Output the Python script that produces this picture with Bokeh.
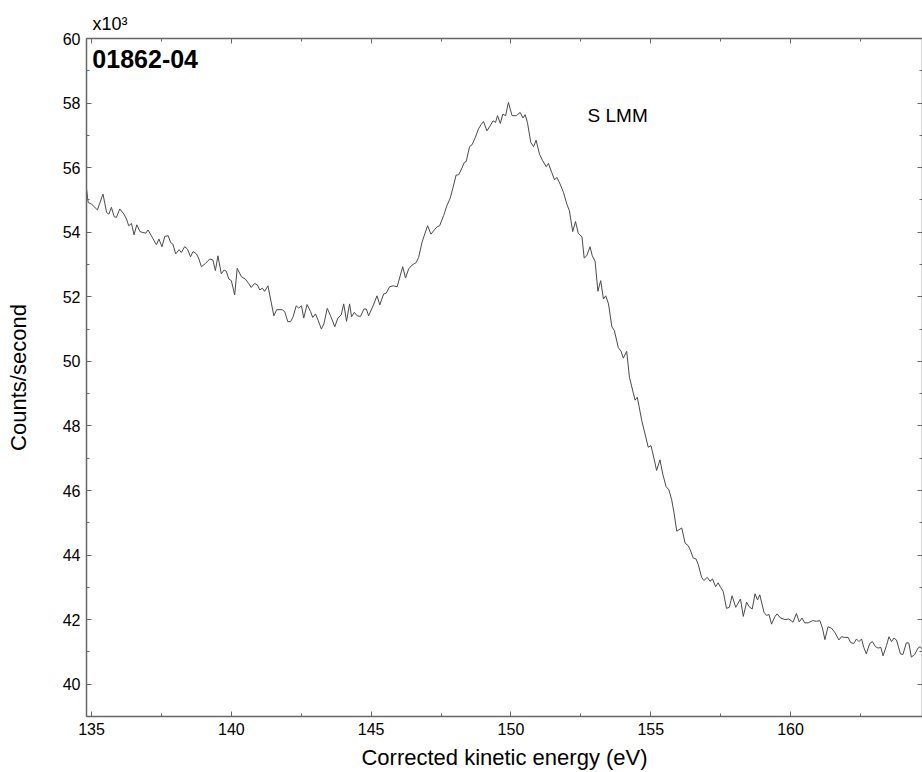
from bokeh.plotting import figure
from bokeh.models import (Range1d, LinearAxis, SingleIntervalTicker, Label)
from bokeh.embed import file_html
from bokeh.resources import INLINE

energy_eV = [
    134.82, 134.88, 135.00, 135.21, 135.41, 135.54, 135.62, 135.71, 135.81, 135.89,
    136.01, 136.16, 136.25, 136.33, 136.43, 136.52, 136.62, 136.73, 136.84, 136.94,
    137.02, 137.14, 137.32, 137.41, 137.52, 137.62, 137.74, 137.83, 137.91, 138.01,
    138.13, 138.21, 138.33, 138.43, 138.54, 138.63, 138.75, 138.83, 138.93, 139.07,
    139.23, 139.34, 139.43, 139.52, 139.64, 139.74, 139.82, 139.91, 140.00, 140.12,
    140.21, 140.36, 140.50, 140.62, 140.71, 140.83,
    140.93, 141.02, 141.11, 141.19, 141.31, 141.52, 141.62, 141.82, 141.91, 142.02,
    142.12, 142.21, 142.32, 142.41, 142.51, 142.59, 142.71, 142.83, 142.91, 143.01,
    143.11, 143.22, 143.31, 143.43, 143.55, 143.70, 143.81, 143.93, 144.02, 144.12,
    144.23, 144.30, 144.40, 144.50, 144.62, 144.74, 144.83, 144.91, 145.07, 145.21,
    145.31, 145.45, 145.54, 145.66, 145.79, 145.93, 146.13, 146.23, 146.34, 146.46,
    146.61, 146.70,
    146.82, 146.94, 147.02, 147.14, 147.26, 147.36, 147.45, 147.59, 147.71, 147.83,
    147.93, 148.04, 148.13, 148.25, 148.33, 148.40, 148.52, 148.61, 148.73, 148.84,
    148.93, 149.02, 149.14, 149.24, 149.36, 149.45, 149.52, 149.62, 149.71, 149.81,
    149.91, 150.04, 150.19, 150.33, 150.43, 150.51, 150.59, 150.71, 150.81, 150.90,
    151.02, 151.14, 151.26, 151.34, 151.46, 151.56, 151.64, 151.76, 151.88, 152.00,
    152.09, 152.21, 152.31, 152.41,
    152.54, 152.62, 152.71, 152.83, 152.91, 153.01, 153.11, 153.21, 153.31, 153.39,
    153.49, 153.61, 153.70, 153.84, 153.94, 154.02, 154.14, 154.24, 154.44, 154.52,
    154.68, 154.83, 154.91, 155.01, 155.12, 155.21, 155.33, 155.43, 155.55, 155.65,
    155.75, 155.83, 155.93, 156.11, 156.23, 156.34,
    156.40, 156.52, 156.62, 156.70, 156.82, 156.90, 157.02, 157.12, 157.21, 157.32,
    157.41, 157.50, 157.59, 157.71, 157.81, 157.91, 158.04, 158.21, 158.31, 158.43,
    158.52, 158.63, 158.73, 158.82, 158.90, 159.05, 159.14, 159.23, 159.32, 159.44,
    159.52, 159.64, 159.80, 159.94, 160.09, 160.21, 160.31, 160.41, 160.51, 160.63,
    160.79, 160.93, 161.05, 161.14, 161.23, 161.34, 161.46, 161.58, 161.73, 161.82,
    161.94, 162.06, 162.15, 162.26, 162.36, 162.45, 162.54, 162.62, 162.71, 162.83,
    162.93, 163.04, 163.13, 163.23, 163.31, 163.43, 163.52, 163.61, 163.70, 163.79,
    163.93, 164.02, 164.14, 164.23, 164.32, 164.44, 164.56, 164.64, 164.75,
]

counts_k = [
    55.35, 54.92, 54.87, 54.69, 55.18, 54.61, 54.56, 54.77, 54.48, 54.46,
    54.72, 54.56, 54.41, 54.20, 54.27, 53.92, 54.23, 54.02, 53.99, 53.97,
    54.07, 53.89, 53.61, 53.79, 53.55, 53.87, 53.89, 53.68, 53.63, 53.33,
    53.46, 53.37, 53.55, 53.48, 53.24, 53.40, 53.33, 53.20, 52.93, 53.03,
    53.17, 53.14, 52.81, 53.27, 52.71, 52.83, 52.79, 52.55, 52.50, 52.06,
    52.88, 52.62, 52.55, 52.41, 52.29, 52.41,
    52.37, 52.21, 52.27, 52.17, 52.34, 51.41, 51.60, 51.60, 51.54, 51.23,
    51.23, 51.38, 51.72, 51.65, 51.72, 51.34, 51.76, 51.55, 51.36, 51.47,
    51.26, 51.00, 51.16, 51.64, 51.41, 51.07, 51.34, 51.44, 51.78, 51.24,
    51.78, 51.38, 51.52, 51.41, 51.39, 51.62, 51.62, 51.41, 51.72, 52.03,
    51.75, 52.09, 52.11, 52.31, 52.34, 52.31, 52.93, 52.58, 52.86, 52.98,
    53.06, 53.22,
    53.69, 54.00, 54.20, 53.94, 54.07, 54.17, 54.20, 54.51, 54.82, 55.06,
    55.39, 55.77, 55.78, 55.99, 56.16, 56.19, 56.65, 56.71, 56.94, 57.20,
    57.33, 57.43, 57.14, 57.27, 57.45, 57.40, 57.61, 57.37, 57.66, 57.61,
    58.02, 57.61, 57.61, 57.71, 57.54, 57.64, 57.40, 56.78, 56.65, 56.85,
    56.42, 56.21, 56.03, 56.13, 55.85, 55.62, 55.70, 55.49, 55.23, 54.87,
    54.67, 54.02, 54.33, 53.96,
    53.86, 53.20, 53.27, 53.55, 53.27, 53.10, 52.17, 52.50, 51.93, 52.03,
    51.78, 51.07, 50.95, 50.43, 50.31, 50.10, 50.31, 49.50, 48.80, 48.89,
    48.16, 47.63, 47.34, 47.39, 46.98, 46.62, 46.95, 46.51, 46.12, 46.02,
    45.71, 45.33, 44.74, 44.84, 44.37, 44.29,
    44.19, 43.91, 43.88, 43.71, 43.31, 43.21, 43.31, 43.19, 43.26, 43.02,
    43.14, 43.00, 42.88, 42.35, 42.38, 42.74, 42.38, 42.64, 42.10, 42.54,
    42.40, 42.33, 42.80, 42.61, 42.77, 42.23, 42.13, 42.16, 41.86, 42.09,
    42.18, 42.05, 42.00, 42.02, 41.92, 42.19, 41.93, 42.05, 41.90, 41.90,
    41.97, 41.95, 41.97, 41.74, 41.38, 41.78, 41.74, 41.61, 41.37, 41.47,
    41.45, 41.45, 41.29, 41.26, 41.40, 41.32, 41.40, 41.14, 40.94, 41.26,
    41.32, 41.16, 41.12, 41.14, 40.88, 41.19, 41.47, 41.32, 41.43, 41.37,
    40.94, 40.92, 41.28, 41.28, 40.84, 40.92, 41.12, 41.16, 41.05,
]

x_ticks_interval = 5
y_ticks_interval = 2
sample_name = "01862-04"
peak_label = "S LMM"
scale_label = "x10³"
x_title = "Corrected kinetic energy (eV)"
y_title = "Counts/second"

FONT = "Liberation Sans"
AX = "#666666"

p = figure(width=922, height=772, output_backend="svg", toolbar_location=None,
           x_range=Range1d(134.82, 164.72), y_range=Range1d(39.0, 60.0),
           min_border_left=86, min_border_right=0, min_border_top=38,
           min_border_bottom=56, background_fill_color="white",
           border_fill_color="white", outline_line_color=None)
p.grid.visible = False

p.line(energy_eV, counts_k, line_color="#4a4a4a", line_width=1)

def style(ax, labels=True):
    ax.axis_line_color = AX
    ax.axis_line_width = 1.5
    ax.major_tick_line_color = AX
    ax.minor_tick_line_color = AX
    ax.major_tick_in = 5
    ax.major_tick_out = 0
    ax.minor_tick_in = 3
    ax.minor_tick_out = 0
    if labels:
        ax.major_label_text_font = FONT
        ax.major_label_text_font_size = "16px"
        ax.major_label_text_color = "black"
        ax.major_label_standoff = 6
        ax.axis_label_text_font = FONT
        ax.axis_label_text_font_size = "22px"
        ax.axis_label_text_font_style = "normal"
        ax.axis_label_text_color = "black"
    else:
        ax.major_label_text_color = None
        ax.major_label_text_font_size = "1px"
        ax.major_label_standoff = 0

xt = SingleIntervalTicker(interval=x_ticks_interval, num_minor_ticks=2)
yt = SingleIntervalTicker(interval=y_ticks_interval, num_minor_ticks=2)

p.xaxis.ticker = xt
p.yaxis.ticker = yt
style(p.xaxis[0])
style(p.yaxis[0])
p.xaxis.axis_label = x_title
p.yaxis.axis_label = y_title
p.xaxis.axis_label_standoff = 7
p.yaxis.axis_label_standoff = 29

top = LinearAxis(ticker=SingleIntervalTicker(interval=x_ticks_interval, num_minor_ticks=2))
style(top, labels=False)
p.add_layout(top, "above")
right = LinearAxis(ticker=SingleIntervalTicker(interval=y_ticks_interval, num_minor_ticks=2))
style(right, labels=False)
p.add_layout(right, "right")

p.title.text = scale_label
p.title.align = "left"
p.title.offset = 6
p.title.standoff = 10
p.title.text_font = FONT
p.title.text_font_size = "18px"
p.title.text_font_style = "normal"
p.title.text_color = "black"

p.add_layout(Label(x=135.03, y=59.37, text=sample_name, text_font=FONT,
                   text_font_size="25px", text_font_style="bold", text_color="black",
                   text_baseline="alphabetic", text_align="left"))
p.add_layout(Label(x=152.74, y=57.60, text=peak_label, text_font=FONT,
                   text_font_size="19px", text_color="black",
                   text_baseline="alphabetic", text_align="left"))

open("out.html", "w").write(file_html(p, INLINE))
